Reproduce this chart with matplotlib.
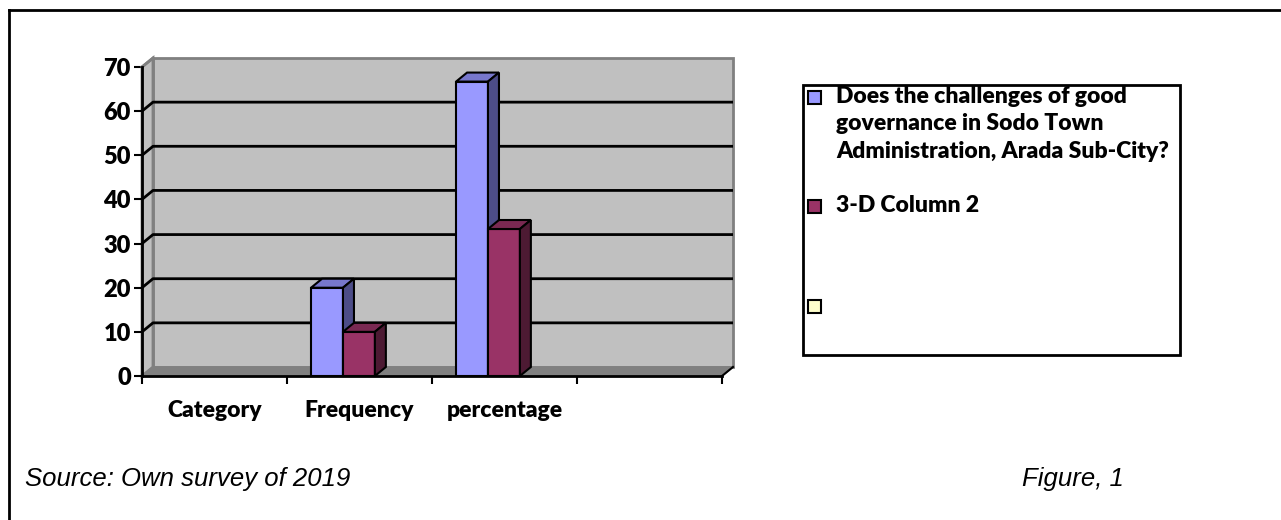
"""3-D style column chart: good governance survey, Sodo Town."""

import matplotlib
matplotlib.use("Agg")
import matplotlib.pyplot as plt
from matplotlib.patches import Polygon, Rectangle

categories = ["Category", "Frequency", "percentage", ""]
series_names = [
    "Does the challenges of good\ngovernance in Sodo Town\nAdministration, Arada Sub-City?",
    "3-D Column 2",
    "",
]
series1 = [0, 20, 66.7, 0]
series2 = [0, 10, 33.3, 0]
y_ticks = [0, 10, 20, 30, 40, 50, 60, 70]

FACE = ["#9999FF", "#993366", "#FFFFCC"]
TOP = ["#7777CC", "#7A2952", "#CCCCA3"]
SIDE = ["#4D4D88", "#4D1A33", "#99997A"]
FONT = "Lato"

W, H = 1281, 520
fig = plt.figure(figsize=(W / 100, H / 100), dpi=100)

# overlay in pixel coordinates for frame, legend and captions
deco = fig.add_axes([0, 0, 1, 1])
deco.set_xlim(0, W)
deco.set_ylim(H, 0)
deco.axis("off")

# chart axes: front plane of the 3-D box
x0, x1, ytop, ybot = 142, 722, 67, 376
ax = fig.add_axes([x0 / W, 1 - ybot / H, (x1 - x0) / W, (ybot - ytop) / H])
ax.set_xlim(0, 4)
ax.set_ylim(0, 70)
ax.patch.set_visible(False)

# depth offset in data units
px_x = 4 / (x1 - x0)
px_y = 70 / (ybot - ytop)
DX, DY = 11 * px_x, 9 * px_y
top = y_ticks[-1]

# walls
ax.add_patch(Polygon([(DX, DY), (4 + DX, DY), (4 + DX, top + DY), (DX, top + DY)],
                     closed=True, fc="#C0C0C0", ec="#808080", lw=2, zorder=1, clip_on=False))
ax.add_patch(Polygon([(0, 0), (DX, DY), (DX, top + DY), (0, top)],
                     closed=True, fc="#C0C0C0", ec="#808080", lw=2, zorder=1, clip_on=False))
ax.add_patch(Polygon([(0, 0), (4, 0), (4 + DX, DY), (DX, DY)],
                     closed=True, fc="#808080", ec="#808080", lw=1, zorder=1, clip_on=False))

for v in y_ticks[1:-1]:
    ax.plot([0, DX, 4 + DX], [v, v + DY, v + DY], color="black", lw=2, zorder=2,
            clip_on=False, solid_capstyle="butt")
ax.plot([0, DX], [top, top + DY], color="#808080", lw=2, zorder=2, clip_on=False)
ax.plot([4, 4 + DX], [0, DY], color="black", lw=1.5, zorder=6, clip_on=False)


def bar3d(left, width, height, k):
    if height <= 0:
        return
    r = left + width
    ax.add_patch(Rectangle((left, 0), width, height, fc=FACE[k], ec="black",
                           lw=1.5, zorder=4, clip_on=False))
    ax.add_patch(Polygon([(left, height), (r, height), (r + DX, height + DY), (left + DX, height + DY)],
                         closed=True, fc=TOP[k], ec="black", lw=1.5, zorder=4, clip_on=False))
    ax.add_patch(Polygon([(r, 0), (r + DX, DY), (r + DX, height + DY), (r, height)],
                         closed=True, fc=SIDE[k], ec="black", lw=1.5, zorder=4, clip_on=False))


bw = 0.22
for i in range(len(categories)):
    bar3d(i + 0.166, bw, series1[i], 0)
    bar3d(i + 0.166 + bw, bw, series2[i], 1)

for side in ["top", "right"]:
    ax.spines[side].set_visible(False)
for side in ["left", "bottom"]:
    ax.spines[side].set_linewidth(2)
    ax.spines[side].set_zorder(6)
ax.set_yticks(y_ticks)
ax.set_yticklabels([str(v) for v in y_ticks], fontsize=17, fontweight="heavy", family=FONT)
ax.set_xticks(range(len(categories) + 1))
ax.set_xticklabels([])
ax.set_xticks([i + 0.5 for i in range(len(categories))], minor=True)
ax.set_xticklabels(categories, minor=True, fontsize=16.5, fontweight="heavy", family=FONT)
ax.tick_params(axis="x", which="minor", length=0, pad=17)
ax.tick_params(axis="both", which="major", length=6, width=1.5, direction="out", pad=2)

# outer frame (only top and left edges are in view)
deco.plot([9, W], [10, 10], color="black", lw=2)
deco.plot([9, 9], [10, H], color="black", lw=2)

# legend
deco.add_patch(Rectangle((803, 85), 377, 270, fc="white", ec="black", lw=2))
entry_y = [97, 206, 306]
for k, (name, yy) in enumerate(zip(series_names, entry_y)):
    deco.add_patch(Rectangle((808, yy - 6.5), 13, 13, fc=FACE[k], ec="black", lw=1.5))
    if name:
        deco.text(836, yy - 11, name, fontsize=16.5, fontweight="heavy", family=FONT,
                  va="top", ha="left", linespacing=1.38)

deco.text(25, 479, "Source: Own survey of 2019", fontsize=18.5, style="italic",
          family="Liberation Sans", va="center")
deco.text(1022, 479, "Figure, 1", fontsize=18.5, style="italic",
          family="Liberation Sans", va="center")

fig.savefig("out.png", dpi=100)
